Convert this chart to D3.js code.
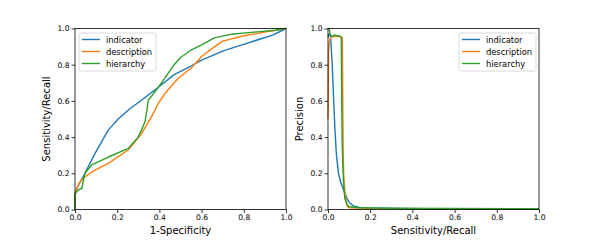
<!DOCTYPE html>
<meta charset="utf-8">
<head>
  <title>ROC and PR curves</title>
</head>

<style>
body { margin: 0; background: #fff; }
text { font-family: "DejaVu Sans", sans-serif; fill: #000; }
.tick text { font-size: 7.6px; }
.tick line { stroke: #000; stroke-width: 0.8; }
.domain { display: none; }
.curve { fill: none; stroke-width: 1.4; stroke-linejoin: round; }
.frame { fill: none; stroke: #000; stroke-width: 0.8; }
.label { font-size: 10px; }
.legend text { font-size: 8.3px; }
</style>

<body>
  <svg width="600" height="240"></svg>

  <script src="https://cdn.jsdelivr.net/npm/d3@7"></script>
  <script>
var seriesNames = ["indicator", "description", "hierarchy"];
var colors = ["#1f77b4", "#ff7f0e", "#2ca02c"];
var tickValues = [0, 0.2, 0.4, 0.6, 0.8, 1.0];

// ROC: 1-specificity (x) and sensitivity (y)
var rocIndicatorX = [0, 0, 0.01, 0.047, 0.095, 0.158, 0.205, 0.253, 0.316, 0.395, 0.47, 0.545, 0.6, 0.70, 0.78, 0.86, 0.94, 1.0];
var rocIndicatorY = [0, 0.08, 0.12, 0.20, 0.31, 0.44, 0.50, 0.55, 0.605, 0.675, 0.745, 0.79, 0.825, 0.875, 0.905, 0.935, 0.965, 1.0];

var rocDescriptionX = [0, 0, 0.01, 0.024, 0.047, 0.095, 0.158, 0.253, 0.316, 0.363, 0.395, 0.427, 0.474, 0.50, 0.55, 0.60, 0.65, 0.70, 0.80, 0.90, 1.0];
var rocDescriptionY = [0, 0.08, 0.12, 0.154, 0.18, 0.218, 0.255, 0.33, 0.42, 0.513, 0.587, 0.642, 0.706, 0.735, 0.78, 0.845, 0.89, 0.93, 0.96, 0.98, 1.0];

var rocHierarchyX = [0, 0, 0.016, 0.032, 0.047, 0.079, 0.158, 0.253, 0.30, 0.332, 0.348, 0.379, 0.419, 0.47, 0.50, 0.55, 0.60, 0.66, 0.75, 0.85, 0.95, 1.0];
var rocHierarchyY = [0, 0.09, 0.108, 0.116, 0.20, 0.246, 0.29, 0.338, 0.40, 0.485, 0.605, 0.65, 0.715, 0.80, 0.84, 0.88, 0.91, 0.948, 0.97, 0.98, 0.99, 1.0];

// PR: recall (x) and precision (y)
var prIndicatorX = [0, 0.005, 0.012, 0.02, 0.027, 0.033, 0.04, 0.05, 0.06, 0.07, 0.08, 0.09, 0.10, 0.12, 0.15, 0.20, 0.40, 0.60, 1.0];
var prIndicatorY = [0.95, 0.97, 0.96, 0.80, 0.60, 0.44, 0.30, 0.20, 0.15, 0.12, 0.09, 0.06, 0.04, 0.02, 0.012, 0.008, 0.005, 0.004, 0.003];

var prDescriptionX = [0, 0.003, 0.007, 0.012, 0.02, 0.04, 0.06, 0.068, 0.07, 0.072, 0.075, 0.08, 0.085, 0.09, 0.10, 0.20, 1.0];
var prDescriptionY = [0.50, 0.88, 0.93, 0.95, 0.955, 0.955, 0.955, 0.95, 0.60, 0.30, 0.18, 0.10, 0.05, 0.02, 0.01, 0.006, 0.003];

var prHierarchyX = [0, 0.005, 0.01, 0.015, 0.02, 0.03, 0.04, 0.05, 0.06, 0.063, 0.065, 0.067, 0.07, 0.075, 0.08, 0.09, 0.10, 0.15, 0.30, 1.0];
var prHierarchyY = [1.0, 1.0, 0.97, 0.96, 0.955, 0.965, 0.96, 0.96, 0.955, 0.95, 0.60, 0.40, 0.25, 0.12, 0.06, 0.03, 0.015, 0.01, 0.007, 0.004];

var svg = d3.select("svg");

function zip(xs, ys) {
  return xs.map(function(x, i) { return [x, ys[i]]; });
}

function drawPanel(left, series, xLabel, yLabel, legendX) {
  var x = d3.scaleLinear().domain([0, 1]).range([left, left + 211]);
  var y = d3.scaleLinear().domain([0, 1]).range([209.5, 28.5]);
  var g = svg.append("g");

  var line = d3.line()
    .x(function(d) { return x(d[0]); })
    .y(function(d) { return y(d[1]); });

  series.forEach(function(s, i) {
    g.append("path")
      .attr("class", "curve")
      .attr("stroke", colors[i])
      .attr("d", line(s));
  });

  g.append("g")
    .attr("transform", "translate(0,209.5)")
    .call(d3.axisBottom(x).tickValues(tickValues).tickFormat(d3.format(".1f")).tickSize(3.5).tickPadding(2));
  g.append("g")
    .attr("transform", "translate(" + left + ",0)")
    .call(d3.axisLeft(y).tickValues(tickValues).tickFormat(d3.format(".1f")).tickSize(3.5).tickPadding(2));

  g.append("rect")
    .attr("class", "frame")
    .attr("x", x(0)).attr("y", y(1))
    .attr("width", x(1) - x(0)).attr("height", y(0) - y(1));

  g.append("text")
    .attr("class", "label")
    .attr("x", (x(0) + x(1)) / 2).attr("y", 234)
    .attr("text-anchor", "middle")
    .text(xLabel);
  g.append("text")
    .attr("class", "label")
    .attr("transform", "translate(" + (left - 25) + "," + y(0.5) + ") rotate(-90)")
    .attr("text-anchor", "middle")
    .text(yLabel);

  var lg = g.append("g").attr("class", "legend")
    .attr("transform", "translate(" + legendX + ",33)");
  lg.append("rect")
    .attr("width", 77).attr("height", 38)
    .attr("rx", 2)
    .attr("fill", "#fff").attr("fill-opacity", 0.8)
    .attr("stroke", "#d0d0d0").attr("stroke-width", 0.8);
  seriesNames.forEach(function(name, i) {
    var yy = 6.5 + i * 12;
    lg.append("line")
      .attr("x1", 3).attr("x2", 21)
      .attr("y1", yy).attr("y2", yy)
      .attr("stroke", colors[i]).attr("stroke-width", 1.4);
    lg.append("text")
      .attr("x", 27).attr("y", yy + 3)
      .text(name);
  });
}

drawPanel(75,
  [zip(rocIndicatorX, rocIndicatorY), zip(rocDescriptionX, rocDescriptionY), zip(rocHierarchyX, rocHierarchyY)],
  "1-Specificity", "Sensitivity/Recall", 79);

drawPanel(328,
  [zip(prIndicatorX, prIndicatorY), zip(prDescriptionX, prDescriptionY), zip(prHierarchyX, prHierarchyY)],
  "Sensitivity/Recall", "Precision", 459);
  </script>
</body>
</html>
